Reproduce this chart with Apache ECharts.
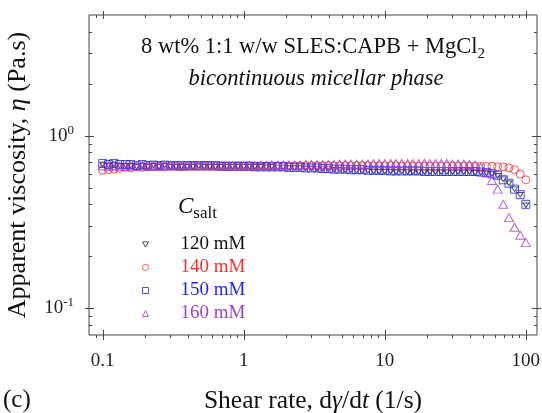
<!DOCTYPE html>
<html>
<head>
<meta charset="utf-8">
<script src="https://cdn.jsdelivr.net/npm/echarts@6/dist/echarts.min.js"></script>
<style>html,body{margin:0;padding:0;background:#fff;}#c{width:542px;height:413px;}</style>
</head>
<body>
<div id="c"></div>
<script>
// ---------- data ----------
const shearRate = [0.1, 0.11, 0.12, 0.132, 0.145, 0.158, 0.174, 0.191, 0.209, 0.229, 0.251, 0.275, 0.302, 0.331, 0.363, 0.398, 0.437, 0.479, 0.525, 0.575, 0.631, 0.692, 0.759, 0.832, 0.912,
  1, 1.1, 1.2, 1.32, 1.45, 1.58, 1.74, 1.91, 2.09, 2.29, 2.51, 2.75, 3.02, 3.31, 3.63, 3.98, 4.37, 4.79, 5.25, 5.75, 6.31, 6.92, 7.59, 8.32, 9.12,
  10, 11, 12, 13.2, 14.5, 15.8, 17.4, 19.1, 20.9, 22.9, 25.1, 27.5, 30.2, 33.1, 36.3, 39.8, 43.7, 47.9, 52.5, 57.5, 63.1, 69.2, 75.9, 83.2, 91.2, 100];

const eta120 = [0.68,0.67,0.68,0.67,0.67,0.67,0.66,0.67,0.66,0.67,
  0.66,0.67,0.66,0.66,0.66,0.66,0.66,0.665,0.66,0.66,
  0.66,0.66,0.66,0.66,0.66,
  0.66,0.66,0.66,0.66,0.655,0.66,0.655,0.655,0.65,0.65,
  0.65,0.645,0.645,0.64,0.64,0.64,0.635,0.635,0.63,0.63,
  0.625,0.625,0.625,0.62,0.62,
  0.62,0.62,0.615,0.62,0.615,0.615,0.615,0.615,0.615,0.615,
  0.615,0.615,0.615,0.615,0.615,0.615,0.61,0.61,0.605,0.60,
  0.585,0.56,0.53,0.49,0.455,0.395];

const eta140 = [0.63,0.635,0.64,0.645,0.655,0.65,0.66,0.655,0.66,0.66,
  0.665,0.66,0.665,0.665,0.66,0.665,0.665,0.665,0.665,0.665,
  0.665,0.665,0.665,0.665,0.665,
  0.665,0.67,0.665,0.67,0.67,0.67,0.67,0.67,0.67,0.67,
  0.67,0.67,0.67,0.67,0.67,0.67,0.67,0.67,0.67,0.67,
  0.67,0.67,0.67,0.67,0.67,
  0.67,0.67,0.67,0.665,0.67,0.665,0.665,0.665,0.665,0.665,
  0.665,0.665,0.665,0.665,0.665,0.665,0.665,0.665,0.665,0.665,
  0.66,0.66,0.65,0.635,0.60,0.555];

const eta150 = [0.69,0.68,0.69,0.68,0.68,0.68,0.67,0.68,0.67,0.675,
  0.67,0.675,0.67,0.67,0.67,0.67,0.67,0.67,0.67,0.67,
  0.67,0.665,0.665,0.665,0.665,
  0.665,0.665,0.66,0.66,0.66,0.66,0.66,0.66,0.655,0.655,
  0.655,0.65,0.65,0.65,0.645,0.645,0.64,0.64,0.64,0.635,
  0.635,0.635,0.63,0.63,0.63,
  0.63,0.625,0.625,0.625,0.625,0.625,0.625,0.62,0.62,0.62,
  0.62,0.62,0.62,0.62,0.62,0.62,0.62,0.615,0.61,0.60,
  0.59,0.555,0.53,0.49,0.455,0.40];

const eta160 = [0.67,0.665,0.67,0.665,0.665,0.67,0.665,0.67,0.665,0.67,
  0.665,0.67,0.67,0.67,0.665,0.67,0.67,0.67,0.67,0.67,
  0.67,0.67,0.67,0.67,0.67,
  0.67,0.67,0.67,0.67,0.67,0.675,0.675,0.675,0.675,0.675,
  0.675,0.68,0.68,0.68,0.68,0.68,0.68,0.685,0.685,0.685,
  0.685,0.685,0.685,0.69,0.69,
  0.69,0.69,0.69,0.69,0.69,0.69,0.69,0.69,0.69,0.69,
  0.69,0.69,0.685,0.685,0.685,0.68,0.675,0.655,0.61,0.55,
  0.49,0.40,0.335,0.295,0.265,0.24];

const seriesNames = ['120 mM', '140 mM', '150 mM', '160 mM'];

const xTickValues = [0.1, 1, 10, 100];
const xTickLabels = ['0.1', '1', '10', '100'];
const xMinorTicks = [0.09, 0.2, 0.3, 0.4, 0.5, 0.6, 0.7, 0.8, 0.9, 2, 3, 4, 5, 6, 7, 8, 9, 20, 30, 40, 50, 60, 70, 80, 90];
const yTickValues = [0.1, 1];
const yTickExponents = ['-1', '0'];
const yMinorTicks = [0.08, 0.09, 0.2, 0.3, 0.4, 0.5, 0.6, 0.7, 0.8, 0.9, 2, 3, 4];

const X_MIN = 0.08, X_MAX = 120, Y_MIN = 0.07, Y_MAX = 5;

// ---------- style ----------
const FONT = '"Liberation Serif", "Times New Roman", serif';
const AXIS_COLOR = '#444';
const colors = ['#222222', '#ff2b2b', '#1f1fff', '#a040c8'];
const symbols = ['path://M0,0L10,0L5,8.66Z', 'circle', 'rect', 'triangle'];
const symbolSizes = [[6, 5.2], 8, 8, [9, 8]];

function pairs(ys) { return shearRate.map((x, i) => [x, ys[i]]); }
const allEta = [eta120, eta140, eta150, eta160];

function isPow10(v) {
  const l = Math.log10(v);
  return Math.abs(l - Math.round(l)) < 1e-6;
}

// tick data: [x, y, kind]; kind 0 x-major, 1 x-minor, 2 y-major, 3 y-minor
const tickData = []
  .concat(xTickValues.map(v => [v, Y_MIN, 0]))
  .concat(xMinorTicks.map(v => [v, Y_MIN, 1]))
  .concat(yTickValues.map(v => [X_MIN, v, 2]))
  .concat(yMinorTicks.map(v => [X_MIN, v, 3]));

function renderTick(params, api) {
  const cs = params.coordSys;
  const kind = api.value(2);
  const p = api.coord([api.value(0), api.value(1)]);
  const L = cs.x, R = cs.x + cs.width, T = cs.y, B = cs.y + cs.height;
  let segs;
  if (kind === 0) {
    const x = Math.round(p[0]) + 0.5;
    segs = [[x, B - 5, x, B + 5], [x, T - 4, x, T + 4]];
  } else if (kind === 1) {
    const x = Math.round(p[0]) + 0.5;
    segs = [[x, B, x, B + 3], [x, T, x, T + 3]];
  } else if (kind === 2) {
    const y = Math.round(p[1]) + 0.5;
    segs = [[L - 4, y, L + 5, y], [R - 5, y, R + 4, y]];
  } else {
    const y = Math.round(p[1]) + 0.5;
    segs = [[L, y, L + 3, y], [R - 3, y, R, y]];
  }
  return {
    type: 'group',
    children: segs.map(s => ({
      type: 'line',
      shape: { x1: s[0], y1: s[1], x2: s[2], y2: s[3] },
      style: { stroke: AXIS_COLOR, lineWidth: 1 }
    }))
  };
}

const drawOrder = [1, 3, 2, 0];
const scatterSeries = drawOrder.map(k => ({
  name: seriesNames[k],
  type: 'scatter',
  data: pairs(allEta[k]),
  symbol: symbols[k],
  symbolSize: symbolSizes[k],
  symbolKeepAspect: true,
  itemStyle: { color: 'rgba(0,0,0,0)', borderColor: colors[k], borderWidth: 1 },
  z: 3 + k
}));

const chart = echarts.init(document.getElementById('c'), null, { renderer: 'canvas' });
chart.setOption({
  animation: false,
  backgroundColor: '#fff',
  grid: { left: 89, top: 15, width: 448, height: 320, containLabel: false, outerBoundsMode: 'none', show: true, borderColor: AXIS_COLOR, borderWidth: 1, backgroundColor: 'rgba(0,0,0,0)' },
  xAxis: {
    type: 'log', logBase: 10, min: X_MIN, max: X_MAX,
    axisLine: { show: false }, axisTick: { show: false }, splitLine: { show: false }, minorTick: { show: false },
    axisLabel: {
      margin: 17, color: '#222', fontSize: 19, fontFamily: FONT,
      formatter: v => { if (!isPow10(v)) return ''; const i = xTickValues.findIndex(t => Math.abs(t - v) / t < 1e-6); return i >= 0 ? xTickLabels[i] : ''; }
    },
    name: 'Shear rate, d{i|γ}/d{i|t} (1/s)',
    nameLocation: 'middle', nameGap: 53,
    nameTextStyle: {
      color: '#111', fontSize: 25.5, fontFamily: FONT,
      rich: { i: { fontSize: 25.5, fontFamily: FONT, fontStyle: 'italic', color: '#111' } }
    }
  },
  yAxis: {
    type: 'log', logBase: 10, min: Y_MIN, max: Y_MAX,
    axisLine: { show: false }, axisTick: { show: false }, splitLine: { show: false }, minorTick: { show: false },
    axisLabel: {
      margin: 15, color: '#222', fontFamily: FONT, fontSize: 19,
      formatter: v => { if (!isPow10(v)) return ''; const i = yTickValues.findIndex(t => Math.abs(t - v) / t < 1e-6); return i >= 0 ? '{b|10}{s|' + yTickExponents[i] + '}' : ''; },
      rich: {
        b: { fontSize: 19, fontFamily: FONT, color: '#222', lineHeight: 24 },
        s: { fontSize: 13, fontFamily: FONT, color: '#222', lineHeight: 14, verticalAlign: 'top' }
      }
    },
    name: 'Apparent viscosity, {i|η} (Pa.s)',
    nameLocation: 'middle', nameGap: 58,
    nameTextStyle: {
      color: '#111', fontSize: 26, fontFamily: FONT,
      rich: { i: { fontSize: 26, fontFamily: FONT, fontStyle: 'italic', color: '#111' } }
    }
  },
  legend: {
    orient: 'vertical', left: 142, top: 233, padding: 0, itemGap: 0,
    itemWidth: 6, itemHeight: 6,
    itemStyle: { borderWidth: 1 },
    data: seriesNames.map((n, k) => ({ name: n, textStyle: { color: colors[k] === '#222222' ? '#111' : colors[k] } })),
    textStyle: { fontSize: 19, fontFamily: FONT, lineHeight: 23, padding: [0, 0, 0, 27] }
  },
  graphic: [
    {
      type: 'text', x: 313, y: 47, silent: true,
      style: {
        text: '{m|8 wt% 1:1 w/w SLES:CAPB + MgCl}{s|2}',
        align: 'center', textAlign: 'center', verticalAlign: 'middle', textVerticalAlign: 'middle',
        rich: {
          m: { fontSize: 22.5, fontFamily: FONT, fill: '#111', lineHeight: 30 },
          s: { fontSize: 15, fontFamily: FONT, fill: '#111', lineHeight: 15, verticalAlign: 'bottom' }
        }
      }
    },
    {
      type: 'text', x: 316, y: 79, silent: true,
      style: {
        text: 'bicontinuous micellar phase', font: 'italic 22.5px ' + FONT, fill: '#111',
        align: 'center', textAlign: 'center', verticalAlign: 'middle', textVerticalAlign: 'middle'
      }
    },
    {
      type: 'text', x: 178, y: 207, silent: true,
      style: {
        text: '{c|C}{s|salt}',
        align: 'left', textAlign: 'left', verticalAlign: 'middle', textVerticalAlign: 'middle',
        rich: {
          c: { fontSize: 23, fontFamily: FONT, fontStyle: 'italic', fill: '#111', lineHeight: 30 },
          s: { fontSize: 17, fontFamily: FONT, fill: '#111', lineHeight: 13, verticalAlign: 'bottom' }
        }
      }
    },
    {
      type: 'text', x: 3, y: 400, silent: true,
      style: { text: '(c)', font: '25px ' + FONT, fill: '#111', align: 'left', textAlign: 'left', verticalAlign: 'middle', textVerticalAlign: 'middle' }
    }
  ],
  series: scatterSeries.concat([{
    type: 'custom', name: 'ticks', silent: true, clip: false,
    renderItem: renderTick, data: tickData, z: 10,
    legendHoverLink: false
  }])
});
</script>
</body>
</html>
